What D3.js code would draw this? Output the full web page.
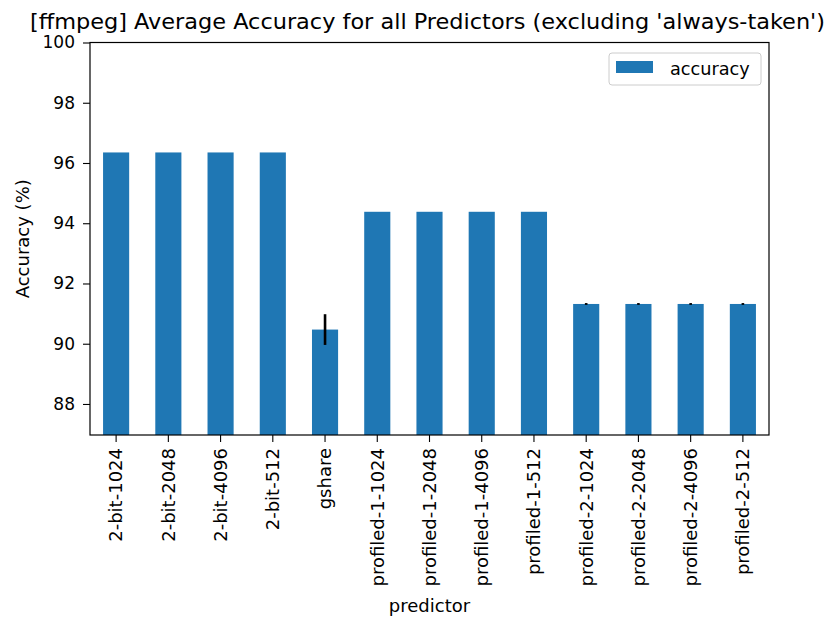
<!DOCTYPE html>
<html>
<head>
<meta charset="utf-8">
<script src="https://cdn.jsdelivr.net/npm/d3@7"></script>
<style>
  body { margin: 0; background: #fff; }
  svg { display: block; }
  text { font-family: "DejaVu Sans", sans-serif; fill: #000; }
</style>
</head>
<body>
<svg id="chart" width="830" height="621"></svg>
<script>
// Predictor names, mean accuracy and its spread
const categories = [
  "2-bit-1024", "2-bit-2048", "2-bit-4096", "2-bit-512", "gshare",
  "profiled-1-1024", "profiled-1-2048", "profiled-1-4096", "profiled-1-512",
  "profiled-2-1024", "profiled-2-2048", "profiled-2-4096", "profiled-2-512"
];
const accuracy = [
  96.35, 96.35, 96.35, 96.35, 90.47,
  94.38, 94.38, 94.38, 94.38,
  91.32, 91.32, 91.32, 91.32
];
const errors = [
  0, 0, 0, 0, 0.51,
  0, 0, 0, 0,
  0.03, 0.03, 0.03, 0.03
];
const yTicks = [88, 90, 92, 94, 96, 98, 100];

const svg = d3.select("#chart");
const plot = { left: 90, right: 769, top: 42.5, bottom: 435 };

const x = d3.scaleBand()
  .domain(categories)
  .range([plot.left, plot.right])
  .paddingInner(0.5)
  .paddingOuter(0.25);

const y = d3.scaleLinear()
  .domain([86.97, 100])
  .range([plot.bottom, plot.top]);

const rows = categories.map((c, i) => ({ name: c, value: accuracy[i], err: errors[i] }));

// bars
svg.append("g").selectAll("rect")
  .data(rows)
  .enter().append("rect")
  .attr("x", d => x(d.name))
  .attr("width", x.bandwidth())
  .attr("y", d => y(d.value))
  .attr("height", d => y.range()[0] - y(d.value))
  .attr("fill", "#1f77b4");

// error bars
svg.append("g").selectAll("line")
  .data(rows.filter(d => d.err > 0))
  .enter().append("line")
  .attr("x1", d => x(d.name) + x.bandwidth() / 2)
  .attr("x2", d => x(d.name) + x.bandwidth() / 2)
  .attr("y1", d => y(d.value - d.err))
  .attr("y2", d => y(d.value + d.err))
  .attr("stroke", "#000")
  .attr("stroke-width", 2.6);

// axes
const yAxis = d3.axisLeft(y).tickValues(yTicks).tickSize(7).tickPadding(8);
const xAxis = d3.axisBottom(x).tickSize(7).tickPadding(5);

const gy = svg.append("g")
  .attr("transform", `translate(${plot.left},0)`)
  .call(yAxis);
gy.select(".domain").remove();
gy.selectAll(".tick line").attr("stroke", "#000").attr("stroke-width", 1.1);
gy.selectAll(".tick text").attr("font-size", 17).attr("font-family", "DejaVu Sans").attr("fill", "#000");

const gx = svg.append("g")
  .attr("transform", `translate(0,${plot.bottom})`)
  .call(xAxis);
gx.select(".domain").remove();
gx.selectAll(".tick line").attr("stroke", "#000").attr("stroke-width", 1.1);
gx.selectAll(".tick text")
  .attr("font-size", 18)
  .attr("font-family", "DejaVu Sans")
  .attr("fill", "#000")
  .attr("transform", "rotate(-90)")
  .attr("text-anchor", "end")
  .attr("x", -13)
  .attr("y", 0)
  .attr("dy", "0.35em");

// frame around the plot area
svg.append("rect")
  .attr("x", plot.left)
  .attr("y", plot.top)
  .attr("width", plot.right - plot.left)
  .attr("height", plot.bottom - plot.top)
  .attr("fill", "none")
  .attr("stroke", "#000")
  .attr("stroke-width", 1.2);

// title and axis labels
svg.append("text")
  .attr("x", 30)
  .attr("y", 29)
  .attr("font-size", 22)
  .attr("textLength", 795)
  .attr("lengthAdjust", "spacingAndGlyphs")
  .text("[ffmpeg] Average Accuracy for all Predictors (excluding 'always-taken')");

svg.append("text")
  .attr("transform", `translate(29,${(plot.top + plot.bottom) / 2}) rotate(-90)`)
  .attr("text-anchor", "middle")
  .attr("font-size", 18)
  .text("Accuracy (%)");

svg.append("text")
  .attr("x", (plot.left + plot.right) / 2)
  .attr("y", 612)
  .attr("text-anchor", "middle")
  .attr("font-size", 18)
  .text("predictor");

// legend
const legend = svg.append("g");
legend.append("rect")
  .attr("x", 609).attr("y", 53)
  .attr("width", 152).attr("height", 32)
  .attr("rx", 3)
  .attr("fill", "#fff").attr("fill-opacity", 0.8)
  .attr("stroke", "#ccc").attr("stroke-width", 1);
legend.append("rect")
  .attr("x", 616).attr("y", 61)
  .attr("width", 37).attr("height", 12)
  .attr("fill", "#1f77b4");
legend.append("text")
  .attr("x", 670).attr("y", 75)
  .attr("font-size", 17.7)
  .text("accuracy");
</script>
</body>
</html>
